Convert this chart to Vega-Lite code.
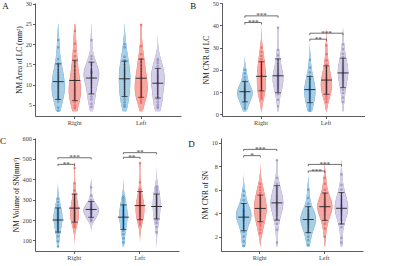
{
"$schema":"https://vega.github.io/schema/vega-lite/v6.json",
"padding":{"left":0,"top":0,"right":0,"bottom":0},
"config":{
 "font":"Liberation Serif",
 "view":{"stroke":null},
 "axis":{"domainColor":"#333","tickColor":"#333","domainWidth":0.8,"tickWidth":0.8,"tickSize":2.5,"labelFont":"Liberation Serif","labelFontSize":6.3,"labelColor":"#444","titleFont":"Liberation Serif","titleFontSize":7.4,"titleFontWeight":"normal","titleColor":"#222","grid":false,"labelPadding":1,"titlePadding":1.5},
 "legend":{"titleFont":"Liberation Serif","titleFontSize":6,"titleFontWeight":"normal","titleColor":"#333","labelFont":"Liberation Serif","labelFontSize":5.8,"labelColor":"#333","symbolType":"square","symbolSize":32,"symbolStrokeWidth":0.8,"rowPadding":0.8,"titlePadding":2,"labelOffset":2},
 "title":{"font":"Liberation Serif","fontSize":9,"fontWeight":"normal","color":"#111","orient":"left","anchor":"end","angle":0,"baseline":"top","align":"right","offset":0.5,"dy":1.5}
},
"datasets":{
"A":[
{"s":"Right","g":"PD","v":3.5},{"s":"Right","g":"PD","v":4.3},{"s":"Right","g":"PD","v":5.8},{"s":"Right","g":"PD","v":6.5},{"s":"Right","g":"PD","v":6.9},{"s":"Right","g":"PD","v":7.3},{"s":"Right","g":"PD","v":7.8},{"s":"Right","g":"PD","v":8.2},{"s":"Right","g":"PD","v":8.7},{"s":"Right","g":"PD","v":9.1},{"s":"Right","g":"PD","v":9.5},{"s":"Right","g":"PD","v":9.9},{"s":"Right","g":"PD","v":10.3},{"s":"Right","g":"PD","v":10.8},{"s":"Right","g":"PD","v":11.3},{"s":"Right","g":"PD","v":11.8},{"s":"Right","g":"PD","v":12.4},{"s":"Right","g":"PD","v":13.0},{"s":"Right","g":"PD","v":13.7},{"s":"Right","g":"PD","v":14.5},{"s":"Right","g":"PD","v":15.2},{"s":"Right","g":"PD","v":16.3},{"s":"Right","g":"PD","v":19.2},{"s":"Right","g":"PD","v":21.0},
{"s":"Right","g":"ET","v":4.2},{"s":"Right","g":"ET","v":4.8},{"s":"Right","g":"ET","v":5.6},{"s":"Right","g":"ET","v":6.2},{"s":"Right","g":"ET","v":6.7},{"s":"Right","g":"ET","v":7.1},{"s":"Right","g":"ET","v":7.5},{"s":"Right","g":"ET","v":7.9},{"s":"Right","g":"ET","v":8.3},{"s":"Right","g":"ET","v":8.7},{"s":"Right","g":"ET","v":9.1},{"s":"Right","g":"ET","v":9.6},{"s":"Right","g":"ET","v":10.1},{"s":"Right","g":"ET","v":10.6},{"s":"Right","g":"ET","v":11.2},{"s":"Right","g":"ET","v":11.9},{"s":"Right","g":"ET","v":12.6},{"s":"Right","g":"ET","v":13.5},{"s":"Right","g":"ET","v":14.5},{"s":"Right","g":"ET","v":15.6},{"s":"Right","g":"ET","v":17.0},{"s":"Right","g":"ET","v":18.3},{"s":"Right","g":"ET","v":20.1},{"s":"Right","g":"ET","v":23.3},
{"s":"Right","g":"HC","v":4.5},{"s":"Right","g":"HC","v":5.2},{"s":"Right","g":"HC","v":6.3},{"s":"Right","g":"HC","v":7.0},{"s":"Right","g":"HC","v":7.8},{"s":"Right","g":"HC","v":8.5},{"s":"Right","g":"HC","v":9.2},{"s":"Right","g":"HC","v":9.8},{"s":"Right","g":"HC","v":10.4},{"s":"Right","g":"HC","v":10.9},{"s":"Right","g":"HC","v":11.4},{"s":"Right","g":"HC","v":11.9},{"s":"Right","g":"HC","v":12.3},{"s":"Right","g":"HC","v":12.7},{"s":"Right","g":"HC","v":13.0},{"s":"Right","g":"HC","v":12.9},{"s":"Right","g":"HC","v":13.1},{"s":"Right","g":"HC","v":13.4},{"s":"Right","g":"HC","v":13.8},{"s":"Right","g":"HC","v":14.8},{"s":"Right","g":"HC","v":15.4},{"s":"Right","g":"HC","v":16.3},{"s":"Right","g":"HC","v":17.0},{"s":"Right","g":"HC","v":21.0},
{"s":"Left","g":"PD","v":4.5},{"s":"Left","g":"PD","v":5.0},{"s":"Left","g":"PD","v":5.6},{"s":"Left","g":"PD","v":6.3},{"s":"Left","g":"PD","v":7.0},{"s":"Left","g":"PD","v":7.6},{"s":"Left","g":"PD","v":8.2},{"s":"Left","g":"PD","v":8.8},{"s":"Left","g":"PD","v":9.4},{"s":"Left","g":"PD","v":10.0},{"s":"Left","g":"PD","v":10.6},{"s":"Left","g":"PD","v":11.1},{"s":"Left","g":"PD","v":11.6},{"s":"Left","g":"PD","v":12.1},{"s":"Left","g":"PD","v":12.6},{"s":"Left","g":"PD","v":13.1},{"s":"Left","g":"PD","v":13.6},{"s":"Left","g":"PD","v":14.2},{"s":"Left","g":"PD","v":14.9},{"s":"Left","g":"PD","v":15.7},{"s":"Left","g":"PD","v":16.0},{"s":"Left","g":"PD","v":16.9},{"s":"Left","g":"PD","v":19.2},{"s":"Left","g":"PD","v":20.0},
{"s":"Left","g":"ET","v":5.5},{"s":"Left","g":"ET","v":6.0},{"s":"Left","g":"ET","v":6.5},{"s":"Left","g":"ET","v":7.0},{"s":"Left","g":"ET","v":7.4},{"s":"Left","g":"ET","v":7.8},{"s":"Left","g":"ET","v":8.2},{"s":"Left","g":"ET","v":8.6},{"s":"Left","g":"ET","v":9.0},{"s":"Left","g":"ET","v":9.4},{"s":"Left","g":"ET","v":9.8},{"s":"Left","g":"ET","v":10.3},{"s":"Left","g":"ET","v":10.8},{"s":"Left","g":"ET","v":11.3},{"s":"Left","g":"ET","v":11.9},{"s":"Left","g":"ET","v":12.5},{"s":"Left","g":"ET","v":13.2},{"s":"Left","g":"ET","v":13.9},{"s":"Left","g":"ET","v":14.7},{"s":"Left","g":"ET","v":15.6},{"s":"Left","g":"ET","v":16.4},{"s":"Left","g":"ET","v":17.5},{"s":"Left","g":"ET","v":19.5},{"s":"Left","g":"ET","v":24.8},
{"s":"Left","g":"HC","v":4.2},{"s":"Left","g":"HC","v":4.5},{"s":"Left","g":"HC","v":5.0},{"s":"Left","g":"HC","v":5.6},{"s":"Left","g":"HC","v":6.3},{"s":"Left","g":"HC","v":7.0},{"s":"Left","g":"HC","v":7.7},{"s":"Left","g":"HC","v":8.3},{"s":"Left","g":"HC","v":8.9},{"s":"Left","g":"HC","v":9.5},{"s":"Left","g":"HC","v":10.0},{"s":"Left","g":"HC","v":10.5},{"s":"Left","g":"HC","v":10.9},{"s":"Left","g":"HC","v":11.3},{"s":"Left","g":"HC","v":11.7},{"s":"Left","g":"HC","v":12.0},{"s":"Left","g":"HC","v":12.4},{"s":"Left","g":"HC","v":12.8},{"s":"Left","g":"HC","v":13.3},{"s":"Left","g":"HC","v":13.9},{"s":"Left","g":"HC","v":14.6},{"s":"Left","g":"HC","v":15.3},{"s":"Left","g":"HC","v":15.9},{"s":"Left","g":"HC","v":16.3}
],
"B":[
{"s":"Right","g":"PD","v":2.5},{"s":"Right","g":"PD","v":3.2},{"s":"Right","g":"PD","v":4.3},{"s":"Right","g":"PD","v":5.2},{"s":"Right","g":"PD","v":6.0},{"s":"Right","g":"PD","v":6.8},{"s":"Right","g":"PD","v":7.4},{"s":"Right","g":"PD","v":7.9},{"s":"Right","g":"PD","v":8.4},{"s":"Right","g":"PD","v":8.8},{"s":"Right","g":"PD","v":9.2},{"s":"Right","g":"PD","v":9.6},{"s":"Right","g":"PD","v":10.0},{"s":"Right","g":"PD","v":10.4},{"s":"Right","g":"PD","v":10.8},{"s":"Right","g":"PD","v":11.3},{"s":"Right","g":"PD","v":11.8},{"s":"Right","g":"PD","v":12.4},{"s":"Right","g":"PD","v":13.1},{"s":"Right","g":"PD","v":14.0},{"s":"Right","g":"PD","v":15.2},{"s":"Right","g":"PD","v":16.6},{"s":"Right","g":"PD","v":18.4},{"s":"Right","g":"PD","v":20.0},
{"s":"Right","g":"ET","v":7.0},{"s":"Right","g":"ET","v":7.8},{"s":"Right","g":"ET","v":8.6},{"s":"Right","g":"ET","v":9.5},{"s":"Right","g":"ET","v":10.4},{"s":"Right","g":"ET","v":11.3},{"s":"Right","g":"ET","v":12.2},{"s":"Right","g":"ET","v":13.0},{"s":"Right","g":"ET","v":13.9},{"s":"Right","g":"ET","v":14.7},{"s":"Right","g":"ET","v":15.5},{"s":"Right","g":"ET","v":16.3},{"s":"Right","g":"ET","v":17.1},{"s":"Right","g":"ET","v":17.9},{"s":"Right","g":"ET","v":18.7},{"s":"Right","g":"ET","v":19.6},{"s":"Right","g":"ET","v":20.5},{"s":"Right","g":"ET","v":21.4},{"s":"Right","g":"ET","v":22.4},{"s":"Right","g":"ET","v":23.5},{"s":"Right","g":"ET","v":24.7},{"s":"Right","g":"ET","v":26.2},{"s":"Right","g":"ET","v":28.0},{"s":"Right","g":"ET","v":30.0},
{"s":"Right","g":"HC","v":3.5},{"s":"Right","g":"HC","v":6.5},{"s":"Right","g":"HC","v":9.0},{"s":"Right","g":"HC","v":10.5},{"s":"Right","g":"HC","v":11.5},{"s":"Right","g":"HC","v":12.3},{"s":"Right","g":"HC","v":13.0},{"s":"Right","g":"HC","v":13.7},{"s":"Right","g":"HC","v":14.4},{"s":"Right","g":"HC","v":15.0},{"s":"Right","g":"HC","v":15.6},{"s":"Right","g":"HC","v":16.2},{"s":"Right","g":"HC","v":16.8},{"s":"Right","g":"HC","v":17.4},{"s":"Right","g":"HC","v":18.0},{"s":"Right","g":"HC","v":18.7},{"s":"Right","g":"HC","v":19.5},{"s":"Right","g":"HC","v":20.4},{"s":"Right","g":"HC","v":21.5},{"s":"Right","g":"HC","v":22.8},{"s":"Right","g":"HC","v":24.5},{"s":"Right","g":"HC","v":26.5},{"s":"Right","g":"HC","v":29.0},{"s":"Right","g":"HC","v":39.0},
{"s":"Left","g":"PD","v":1.5},{"s":"Left","g":"PD","v":2.5},{"s":"Left","g":"PD","v":3.5},{"s":"Left","g":"PD","v":4.5},{"s":"Left","g":"PD","v":5.5},{"s":"Left","g":"PD","v":6.5},{"s":"Left","g":"PD","v":7.3},{"s":"Left","g":"PD","v":8.0},{"s":"Left","g":"PD","v":8.7},{"s":"Left","g":"PD","v":9.3},{"s":"Left","g":"PD","v":9.9},{"s":"Left","g":"PD","v":10.4},{"s":"Left","g":"PD","v":10.9},{"s":"Left","g":"PD","v":11.5},{"s":"Left","g":"PD","v":12.1},{"s":"Left","g":"PD","v":12.8},{"s":"Left","g":"PD","v":13.6},{"s":"Left","g":"PD","v":14.5},{"s":"Left","g":"PD","v":15.6},{"s":"Left","g":"PD","v":15.8},{"s":"Left","g":"PD","v":17.2},{"s":"Left","g":"PD","v":18.8},{"s":"Left","g":"PD","v":21.0},{"s":"Left","g":"PD","v":24.5},
{"s":"Left","g":"ET","v":5.5},{"s":"Left","g":"ET","v":6.8},{"s":"Left","g":"ET","v":8.0},{"s":"Left","g":"ET","v":9.0},{"s":"Left","g":"ET","v":9.8},{"s":"Left","g":"ET","v":10.5},{"s":"Left","g":"ET","v":11.2},{"s":"Left","g":"ET","v":11.8},{"s":"Left","g":"ET","v":12.4},{"s":"Left","g":"ET","v":13.0},{"s":"Left","g":"ET","v":13.6},{"s":"Left","g":"ET","v":14.2},{"s":"Left","g":"ET","v":14.8},{"s":"Left","g":"ET","v":15.4},{"s":"Left","g":"ET","v":16.0},{"s":"Left","g":"ET","v":16.7},{"s":"Left","g":"ET","v":17.5},{"s":"Left","g":"ET","v":18.4},{"s":"Left","g":"ET","v":19.5},{"s":"Left","g":"ET","v":20.8},{"s":"Left","g":"ET","v":22.3},{"s":"Left","g":"ET","v":24.2},{"s":"Left","g":"ET","v":27.0},{"s":"Left","g":"ET","v":31.0},
{"s":"Left","g":"HC","v":5.5},{"s":"Left","g":"HC","v":7.5},{"s":"Left","g":"HC","v":9.5},{"s":"Left","g":"HC","v":11.0},{"s":"Left","g":"HC","v":12.5},{"s":"Left","g":"HC","v":13.8},{"s":"Left","g":"HC","v":14.9},{"s":"Left","g":"HC","v":15.8},{"s":"Left","g":"HC","v":16.6},{"s":"Left","g":"HC","v":17.3},{"s":"Left","g":"HC","v":17.9},{"s":"Left","g":"HC","v":18.5},{"s":"Left","g":"HC","v":19.1},{"s":"Left","g":"HC","v":19.7},{"s":"Left","g":"HC","v":20.3},{"s":"Left","g":"HC","v":20.9},{"s":"Left","g":"HC","v":21.6},{"s":"Left","g":"HC","v":22.4},{"s":"Left","g":"HC","v":23.3},{"s":"Left","g":"HC","v":24.4},{"s":"Left","g":"HC","v":25.7},{"s":"Left","g":"HC","v":27.2},{"s":"Left","g":"HC","v":29.3},{"s":"Left","g":"HC","v":31.5}
],
"C":[
{"s":"Right","g":"PD","v":70},{"s":"Right","g":"PD","v":95},{"s":"Right","g":"PD","v":120},{"s":"Right","g":"PD","v":138},{"s":"Right","g":"PD","v":150},{"s":"Right","g":"PD","v":160},{"s":"Right","g":"PD","v":168},{"s":"Right","g":"PD","v":176},{"s":"Right","g":"PD","v":183},{"s":"Right","g":"PD","v":190},{"s":"Right","g":"PD","v":196},{"s":"Right","g":"PD","v":202},{"s":"Right","g":"PD","v":208},{"s":"Right","g":"PD","v":214},{"s":"Right","g":"PD","v":220},{"s":"Right","g":"PD","v":226},{"s":"Right","g":"PD","v":232},{"s":"Right","g":"PD","v":238},{"s":"Right","g":"PD","v":245},{"s":"Right","g":"PD","v":252},{"s":"Right","g":"PD","v":260},{"s":"Right","g":"PD","v":272},{"s":"Right","g":"PD","v":288},{"s":"Right","g":"PD","v":305},
{"s":"Right","g":"ET","v":165},{"s":"Right","g":"ET","v":175},{"s":"Right","g":"ET","v":185},{"s":"Right","g":"ET","v":193},{"s":"Right","g":"ET","v":200},{"s":"Right","g":"ET","v":207},{"s":"Right","g":"ET","v":213},{"s":"Right","g":"ET","v":219},{"s":"Right","g":"ET","v":225},{"s":"Right","g":"ET","v":231},{"s":"Right","g":"ET","v":237},{"s":"Right","g":"ET","v":243},{"s":"Right","g":"ET","v":249},{"s":"Right","g":"ET","v":255},{"s":"Right","g":"ET","v":262},{"s":"Right","g":"ET","v":270},{"s":"Right","g":"ET","v":278},{"s":"Right","g":"ET","v":287},{"s":"Right","g":"ET","v":297},{"s":"Right","g":"ET","v":310},{"s":"Right","g":"ET","v":325},{"s":"Right","g":"ET","v":345},{"s":"Right","g":"ET","v":380},{"s":"Right","g":"ET","v":455},
{"s":"Right","g":"HC","v":195},{"s":"Right","g":"HC","v":200},{"s":"Right","g":"HC","v":206},{"s":"Right","g":"HC","v":212},{"s":"Right","g":"HC","v":218},{"s":"Right","g":"HC","v":224},{"s":"Right","g":"HC","v":229},{"s":"Right","g":"HC","v":233},{"s":"Right","g":"HC","v":237},{"s":"Right","g":"HC","v":241},{"s":"Right","g":"HC","v":244},{"s":"Right","g":"HC","v":247},{"s":"Right","g":"HC","v":250},{"s":"Right","g":"HC","v":253},{"s":"Right","g":"HC","v":256},{"s":"Right","g":"HC","v":260},{"s":"Right","g":"HC","v":264},{"s":"Right","g":"HC","v":268},{"s":"Right","g":"HC","v":273},{"s":"Right","g":"HC","v":279},{"s":"Right","g":"HC","v":287},{"s":"Right","g":"HC","v":298},{"s":"Right","g":"HC","v":320},{"s":"Right","g":"HC","v":360},
{"s":"Left","g":"PD","v":90},{"s":"Left","g":"PD","v":110},{"s":"Left","g":"PD","v":130},{"s":"Left","g":"PD","v":148},{"s":"Left","g":"PD","v":160},{"s":"Left","g":"PD","v":170},{"s":"Left","g":"PD","v":179},{"s":"Left","g":"PD","v":187},{"s":"Left","g":"PD","v":195},{"s":"Left","g":"PD","v":202},{"s":"Left","g":"PD","v":209},{"s":"Left","g":"PD","v":215},{"s":"Left","g":"PD","v":221},{"s":"Left","g":"PD","v":227},{"s":"Left","g":"PD","v":233},{"s":"Left","g":"PD","v":240},{"s":"Left","g":"PD","v":247},{"s":"Left","g":"PD","v":254},{"s":"Left","g":"PD","v":262},{"s":"Left","g":"PD","v":270},{"s":"Left","g":"PD","v":280},{"s":"Left","g":"PD","v":292},{"s":"Left","g":"PD","v":305},{"s":"Left","g":"PD","v":315},
{"s":"Left","g":"ET","v":175},{"s":"Left","g":"ET","v":185},{"s":"Left","g":"ET","v":195},{"s":"Left","g":"ET","v":204},{"s":"Left","g":"ET","v":212},{"s":"Left","g":"ET","v":220},{"s":"Left","g":"ET","v":227},{"s":"Left","g":"ET","v":234},{"s":"Left","g":"ET","v":240},{"s":"Left","g":"ET","v":246},{"s":"Left","g":"ET","v":252},{"s":"Left","g":"ET","v":258},{"s":"Left","g":"ET","v":264},{"s":"Left","g":"ET","v":270},{"s":"Left","g":"ET","v":276},{"s":"Left","g":"ET","v":283},{"s":"Left","g":"ET","v":290},{"s":"Left","g":"ET","v":298},{"s":"Left","g":"ET","v":307},{"s":"Left","g":"ET","v":318},{"s":"Left","g":"ET","v":332},{"s":"Left","g":"ET","v":350},{"s":"Left","g":"ET","v":385},{"s":"Left","g":"ET","v":480},
{"s":"Left","g":"HC","v":140},{"s":"Left","g":"HC","v":165},{"s":"Left","g":"HC","v":185},{"s":"Left","g":"HC","v":198},{"s":"Left","g":"HC","v":210},{"s":"Left","g":"HC","v":220},{"s":"Left","g":"HC","v":229},{"s":"Left","g":"HC","v":237},{"s":"Left","g":"HC","v":245},{"s":"Left","g":"HC","v":252},{"s":"Left","g":"HC","v":259},{"s":"Left","g":"HC","v":266},{"s":"Left","g":"HC","v":273},{"s":"Left","g":"HC","v":280},{"s":"Left","g":"HC","v":287},{"s":"Left","g":"HC","v":294},{"s":"Left","g":"HC","v":301},{"s":"Left","g":"HC","v":309},{"s":"Left","g":"HC","v":317},{"s":"Left","g":"HC","v":326},{"s":"Left","g":"HC","v":336},{"s":"Left","g":"HC","v":347},{"s":"Left","g":"HC","v":357},{"s":"Left","g":"HC","v":365}
],
"D":[
{"s":"Right","g":"PD","v":1.2},{"s":"Right","g":"PD","v":1.6},{"s":"Right","g":"PD","v":2.0},{"s":"Right","g":"PD","v":2.4},{"s":"Right","g":"PD","v":2.7},{"s":"Right","g":"PD","v":2.9},{"s":"Right","g":"PD","v":3.1},{"s":"Right","g":"PD","v":3.3},{"s":"Right","g":"PD","v":3.4},{"s":"Right","g":"PD","v":3.5},{"s":"Right","g":"PD","v":3.6},{"s":"Right","g":"PD","v":3.7},{"s":"Right","g":"PD","v":3.8},{"s":"Right","g":"PD","v":3.9},{"s":"Right","g":"PD","v":4.0},{"s":"Right","g":"PD","v":4.1},{"s":"Right","g":"PD","v":4.2},{"s":"Right","g":"PD","v":4.25},{"s":"Right","g":"PD","v":4.4},{"s":"Right","g":"PD","v":4.6},{"s":"Right","g":"PD","v":4.8},{"s":"Right","g":"PD","v":5.1},{"s":"Right","g":"PD","v":5.5},{"s":"Right","g":"PD","v":5.9},
{"s":"Right","g":"ET","v":2.3},{"s":"Right","g":"ET","v":2.6},{"s":"Right","g":"ET","v":2.9},{"s":"Right","g":"ET","v":3.1},{"s":"Right","g":"ET","v":3.3},{"s":"Right","g":"ET","v":3.5},{"s":"Right","g":"ET","v":3.7},{"s":"Right","g":"ET","v":3.85},{"s":"Right","g":"ET","v":4.0},{"s":"Right","g":"ET","v":4.1},{"s":"Right","g":"ET","v":4.25},{"s":"Right","g":"ET","v":4.35},{"s":"Right","g":"ET","v":4.45},{"s":"Right","g":"ET","v":4.55},{"s":"Right","g":"ET","v":4.7},{"s":"Right","g":"ET","v":4.85},{"s":"Right","g":"ET","v":5.0},{"s":"Right","g":"ET","v":5.15},{"s":"Right","g":"ET","v":5.3},{"s":"Right","g":"ET","v":5.5},{"s":"Right","g":"ET","v":5.7},{"s":"Right","g":"ET","v":5.95},{"s":"Right","g":"ET","v":6.2},{"s":"Right","g":"ET","v":6.5},
{"s":"Right","g":"HC","v":1.5},{"s":"Right","g":"HC","v":2.6},{"s":"Right","g":"HC","v":3.1},{"s":"Right","g":"HC","v":3.5},{"s":"Right","g":"HC","v":3.8},{"s":"Right","g":"HC","v":4.0},{"s":"Right","g":"HC","v":4.2},{"s":"Right","g":"HC","v":4.35},{"s":"Right","g":"HC","v":4.5},{"s":"Right","g":"HC","v":4.6},{"s":"Right","g":"HC","v":4.7},{"s":"Right","g":"HC","v":4.8},{"s":"Right","g":"HC","v":4.9},{"s":"Right","g":"HC","v":5.0},{"s":"Right","g":"HC","v":5.15},{"s":"Right","g":"HC","v":5.3},{"s":"Right","g":"HC","v":5.45},{"s":"Right","g":"HC","v":5.6},{"s":"Right","g":"HC","v":5.8},{"s":"Right","g":"HC","v":6.0},{"s":"Right","g":"HC","v":6.2},{"s":"Right","g":"HC","v":6.5},{"s":"Right","g":"HC","v":7.0},{"s":"Right","g":"HC","v":8.5},
{"s":"Left","g":"PD","v":1.3},{"s":"Left","g":"PD","v":1.7},{"s":"Left","g":"PD","v":2.0},{"s":"Left","g":"PD","v":2.3},{"s":"Left","g":"PD","v":2.5},{"s":"Left","g":"PD","v":2.7},{"s":"Left","g":"PD","v":2.85},{"s":"Left","g":"PD","v":3.0},{"s":"Left","g":"PD","v":3.1},{"s":"Left","g":"PD","v":3.2},{"s":"Left","g":"PD","v":3.3},{"s":"Left","g":"PD","v":3.4},{"s":"Left","g":"PD","v":3.5},{"s":"Left","g":"PD","v":3.6},{"s":"Left","g":"PD","v":3.7},{"s":"Left","g":"PD","v":3.8},{"s":"Left","g":"PD","v":3.9},{"s":"Left","g":"PD","v":4.0},{"s":"Left","g":"PD","v":4.15},{"s":"Left","g":"PD","v":4.3},{"s":"Left","g":"PD","v":4.5},{"s":"Left","g":"PD","v":4.8},{"s":"Left","g":"PD","v":5.3},{"s":"Left","g":"PD","v":6.0},
{"s":"Left","g":"ET","v":2.0},{"s":"Left","g":"ET","v":2.7},{"s":"Left","g":"ET","v":3.1},{"s":"Left","g":"ET","v":3.4},{"s":"Left","g":"ET","v":3.6},{"s":"Left","g":"ET","v":3.8},{"s":"Left","g":"ET","v":3.95},{"s":"Left","g":"ET","v":4.1},{"s":"Left","g":"ET","v":4.2},{"s":"Left","g":"ET","v":4.3},{"s":"Left","g":"ET","v":4.4},{"s":"Left","g":"ET","v":4.5},{"s":"Left","g":"ET","v":4.6},{"s":"Left","g":"ET","v":4.7},{"s":"Left","g":"ET","v":4.8},{"s":"Left","g":"ET","v":4.9},{"s":"Left","g":"ET","v":5.0},{"s":"Left","g":"ET","v":5.15},{"s":"Left","g":"ET","v":5.3},{"s":"Left","g":"ET","v":5.5},{"s":"Left","g":"ET","v":5.7},{"s":"Left","g":"ET","v":6.0},{"s":"Left","g":"ET","v":6.5},{"s":"Left","g":"ET","v":7.0},
{"s":"Left","g":"HC","v":1.5},{"s":"Left","g":"HC","v":1.9},{"s":"Left","g":"HC","v":2.8},{"s":"Left","g":"HC","v":3.1},{"s":"Left","g":"HC","v":3.4},{"s":"Left","g":"HC","v":3.6},{"s":"Left","g":"HC","v":3.8},{"s":"Left","g":"HC","v":3.95},{"s":"Left","g":"HC","v":4.1},{"s":"Left","g":"HC","v":4.2},{"s":"Left","g":"HC","v":4.3},{"s":"Left","g":"HC","v":4.4},{"s":"Left","g":"HC","v":4.5},{"s":"Left","g":"HC","v":4.6},{"s":"Left","g":"HC","v":4.7},{"s":"Left","g":"HC","v":4.85},{"s":"Left","g":"HC","v":5.0},{"s":"Left","g":"HC","v":5.15},{"s":"Left","g":"HC","v":5.3},{"s":"Left","g":"HC","v":5.5},{"s":"Left","g":"HC","v":5.7},{"s":"Left","g":"HC","v":6.0},{"s":"Left","g":"HC","v":6.4},{"s":"Left","g":"HC","v":7.3}
],
"bB":[
{"b":1,"s":"Right","g":"PD","v":43.4,"o":0},{"b":1,"s":"Right","g":"PD","v":44.3,"o":1},{"b":1,"s":"Right","g":"HC","v":44.3,"o":2},{"b":1,"s":"Right","g":"HC","v":43.4,"o":3},
{"b":2,"s":"Right","g":"PD","v":40.4,"o":0},{"b":2,"s":"Right","g":"PD","v":41.3,"o":1},{"b":2,"s":"Right","g":"ET","v":41.3,"o":2},{"b":2,"s":"Right","g":"ET","v":40.4,"o":3},
{"b":3,"s":"Left","g":"PD","v":35.6,"o":0},{"b":3,"s":"Left","g":"PD","v":36.5,"o":1},{"b":3,"s":"Left","g":"HC","v":36.5,"o":2},{"b":3,"s":"Left","g":"HC","v":35.6,"o":3},
{"b":4,"s":"Left","g":"PD","v":32.9,"o":0},{"b":4,"s":"Left","g":"PD","v":33.8,"o":1},{"b":4,"s":"Left","g":"ET","v":33.8,"o":2},{"b":4,"s":"Left","g":"ET","v":32.9,"o":3}
],
"lB":[
{"s":"Right","g":"ET","v":44.3,"t":"***"},{"s":"Right","g":"PD-ET","v":41.3,"t":"***"},{"s":"Left","g":"ET","v":36.5,"t":"***"},{"s":"Left","g":"PD-ET","v":33.8,"t":"**"}
],
"bC":[
{"b":1,"s":"Right","g":"PD","v":498,"o":0},{"b":1,"s":"Right","g":"PD","v":506,"o":1},{"b":1,"s":"Right","g":"HC","v":506,"o":2},{"b":1,"s":"Right","g":"HC","v":498,"o":3},
{"b":2,"s":"Right","g":"PD","v":465.5,"o":0},{"b":2,"s":"Right","g":"PD","v":473.5,"o":1},{"b":2,"s":"Right","g":"ET","v":473.5,"o":2},{"b":2,"s":"Right","g":"ET","v":465.5,"o":3},
{"b":3,"s":"Left","g":"PD","v":523,"o":0},{"b":3,"s":"Left","g":"PD","v":531,"o":1},{"b":3,"s":"Left","g":"HC","v":531,"o":2},{"b":3,"s":"Left","g":"HC","v":523,"o":3},
{"b":4,"s":"Left","g":"PD","v":500,"o":0},{"b":4,"s":"Left","g":"PD","v":508,"o":1},{"b":4,"s":"Left","g":"ET","v":508,"o":2},{"b":4,"s":"Left","g":"ET","v":500,"o":3}
],
"lC":[
{"s":"Right","g":"ET","v":506,"t":"***"},{"s":"Right","g":"PD-ET","v":473.5,"t":"**"},{"s":"Left","g":"ET","v":531,"t":"**"},{"s":"Left","g":"PD-ET","v":508,"t":"**"}
],
"bD":[
{"b":1,"s":"Right","g":"PD","v":9.28,"o":0},{"b":1,"s":"Right","g":"PD","v":9.43,"o":1},{"b":1,"s":"Right","g":"HC","v":9.43,"o":2},{"b":1,"s":"Right","g":"HC","v":9.28,"o":3},
{"b":2,"s":"Right","g":"PD","v":8.75,"o":0},{"b":2,"s":"Right","g":"PD","v":8.9,"o":1},{"b":2,"s":"Right","g":"ET","v":8.9,"o":2},{"b":2,"s":"Right","g":"ET","v":8.75,"o":3},
{"b":3,"s":"Left","g":"PD","v":8.0,"o":0},{"b":3,"s":"Left","g":"PD","v":8.15,"o":1},{"b":3,"s":"Left","g":"HC","v":8.15,"o":2},{"b":3,"s":"Left","g":"HC","v":8.0,"o":3},
{"b":4,"s":"Left","g":"PD","v":7.44,"o":0},{"b":4,"s":"Left","g":"PD","v":7.59,"o":1},{"b":4,"s":"Left","g":"ET","v":7.59,"o":2},{"b":4,"s":"Left","g":"ET","v":7.44,"o":3}
],
"lD":[
{"s":"Right","g":"ET","v":9.43,"t":"***"},{"s":"Right","g":"PD-ET","v":8.9,"t":"*"},{"s":"Left","g":"ET","v":8.15,"t":"***"},{"s":"Left","g":"PD-ET","v":7.59,"t":"***"}
]
},
"spacing":9,
"resolve":{"scale":{"size":"independent","fill":"independent","stroke":"independent","color":"independent"},"legend":{"fill":"independent","stroke":"independent"}},
"vconcat":[
{"hconcat":[
{"width":146,"height":113,"title":{"text":"A"},"data":{"name":"A"},
 "resolve":{"scale":{"size":"independent"}},
 "encoding":{
  "x":{"field":"s","type":"nominal","sort":["Right","Left"],"scale":{"paddingInner":0.375,"paddingOuter":0.2875},"axis":{"title":null,"labelAngle":0}},
  "xOffset":{"field":"g","type":"nominal","scale":{"domain":["PD","PD-ET","ET","ET-HC","HC"],"paddingInner":0,"paddingOuter":0}},
  "y":{"field":"v","type":"quantitative","scale":{"domain":[2.2,30.2],"nice":false,"zero":false},"axis":{"title":"NM Area of LC (mm²)","values":[5,10,15,20,25,30]}}},
 "layer":[
  {"transform":[{"density":"v","groupby":["s","g"],"steps":150,"as":["v","dens"]}],
   "mark":{"type":"tick","thickness":1.1,"opacity":1},
   "encoding":{"size":{"field":"dens","type":"quantitative","scale":{"range":[0,15.6],"zero":true},"legend":null},
    "color":{"field":"g","type":"nominal","scale":{"domain":["PD","ET","HC"],"range":["#86b9dc","#f08d87","#b6aed6"]},"legend":null}}},
  {"transform":[{"density":"v","groupby":["s","g"],"steps":150,"as":["v","dens"]}],
   "mark":{"type":"tick","thickness":1.1,"opacity":1},
   "encoding":{"size":{"field":"dens","type":"quantitative","scale":{"range":[0,14],"zero":true},"legend":null},
    "fill":{"field":"g","type":"nominal","scale":{"domain":["PD","ET","HC"],"range":["#a9cfe7","#f6aaa5","#d5cfe7"]},"legend":{"title":"Group","orient":"none","legendX":150,"legendY":38}}}},
  {"mark":{"type":"point","shape":"square","size":2,"filled":false,"strokeWidth":0.9,"opacity":0.75},
   "encoding":{"stroke":{"field":"g","type":"nominal","scale":{"domain":["PD","ET","HC"],"range":["#3d8cc4","#e9544d","#8a7fb5"]},"legend":{"title":"Group","orient":"none","legendX":150,"legendY":38}}}},
  {"mark":{"type":"errorbar","extent":"stdev","ticks":{"size":6,"color":"#222","strokeWidth":0.9},"rule":{"color":"#222","strokeWidth":0.9}}},
  {"mark":{"type":"tick","color":"#222","size":11,"thickness":0.9,"opacity":1},"encoding":{"y":{"aggregate":"mean","field":"v","type":"quantitative"}}}
 ]},
{"width":143,"height":113,"title":{"text":"B"},"data":{"name":"B"},
 "resolve":{"scale":{"size":"independent"}},
 "encoding":{
  "x":{"field":"s","type":"nominal","sort":["Right","Left"],"scale":{"paddingInner":0.375,"paddingOuter":0.2875},"axis":{"title":null,"labelAngle":0}},
  "xOffset":{"field":"g","type":"nominal","scale":{"domain":["PD","PD-ET","ET","ET-HC","HC"],"paddingInner":0,"paddingOuter":0}},
  "y":{"field":"v","type":"quantitative","scale":{"domain":[-0.8,50.1],"nice":false,"zero":false},"axis":{"title":"NM CNR of LC","values":[0,10,20,30,40,50]}}},
 "layer":[
  {"transform":[{"density":"v","groupby":["s","g"],"steps":150,"as":["v","dens"]}],
   "mark":{"type":"tick","thickness":1.1,"opacity":1},
   "encoding":{"size":{"field":"dens","type":"quantitative","scale":{"range":[0,15.6],"zero":true},"legend":null},
    "color":{"field":"g","type":"nominal","scale":{"domain":["PD","ET","HC"],"range":["#86b9dc","#f08d87","#b6aed6"]},"legend":null}}},
  {"transform":[{"density":"v","groupby":["s","g"],"steps":150,"as":["v","dens"]}],
   "mark":{"type":"tick","thickness":1.1,"opacity":1},
   "encoding":{"size":{"field":"dens","type":"quantitative","scale":{"range":[0,14],"zero":true},"legend":null},
    "fill":{"field":"g","type":"nominal","scale":{"domain":["PD","ET","HC"],"range":["#a9cfe7","#f6aaa5","#d5cfe7"]},"legend":{"title":"Group","orient":"none","legendX":150,"legendY":38}}}},
  {"mark":{"type":"point","shape":"square","size":2,"filled":false,"strokeWidth":0.9,"opacity":0.75},
   "encoding":{"stroke":{"field":"g","type":"nominal","scale":{"domain":["PD","ET","HC"],"range":["#3d8cc4","#e9544d","#8a7fb5"]},"legend":{"title":"Group","orient":"none","legendX":150,"legendY":38}}}},
  {"mark":{"type":"errorbar","extent":"stdev","ticks":{"size":6,"color":"#222","strokeWidth":0.9},"rule":{"color":"#222","strokeWidth":0.9}}},
  {"mark":{"type":"tick","color":"#222","size":11,"thickness":0.9,"opacity":1},"encoding":{"y":{"aggregate":"mean","field":"v","type":"quantitative"}}},
  {"data":{"name":"bB"},"mark":{"type":"line","color":"#333","strokeWidth":0.7},"encoding":{"detail":{"field":"b","type":"nominal"},"order":{"field":"o","type":"quantitative"}}},
  {"data":{"name":"lB"},"mark":{"type":"text","fontSize":7,"baseline":"alphabetic","dy":1.5,"color":"#333"},"encoding":{"text":{"field":"t","type":"nominal"}}}
 ]}
],"spacing":9,
"resolve":{"scale":{"size":"independent","fill":"independent","stroke":"independent","color":"independent"},"legend":{"fill":"independent","stroke":"independent"}}},
{"hconcat":[
{"width":144,"height":113,"title":{"text":"C"},"data":{"name":"C"},
 "resolve":{"scale":{"size":"independent"}},
 "encoding":{
  "x":{"field":"s","type":"nominal","sort":["Right","Left"],"scale":{"paddingInner":0.375,"paddingOuter":0.2875},"axis":{"title":null,"labelAngle":0}},
  "xOffset":{"field":"g","type":"nominal","scale":{"domain":["PD","PD-ET","ET","ET-HC","HC"],"paddingInner":0,"paddingOuter":0}},
  "y":{"field":"v","type":"quantitative","scale":{"domain":[48,603],"nice":false,"zero":false},"axis":{"title":"NM Volume of SN(mm³)","values":[100,200,300,400,500,600]}}},
 "layer":[
  {"transform":[{"density":"v","groupby":["s","g"],"steps":150,"as":["v","dens"]}],
   "mark":{"type":"tick","thickness":1.1,"opacity":1},
   "encoding":{"size":{"field":"dens","type":"quantitative","scale":{"range":[0,15.6],"zero":true},"legend":null},
    "color":{"field":"g","type":"nominal","scale":{"domain":["PD","ET","HC"],"range":["#86b9dc","#f08d87","#b6aed6"]},"legend":null}}},
  {"transform":[{"density":"v","groupby":["s","g"],"steps":150,"as":["v","dens"]}],
   "mark":{"type":"tick","thickness":1.1,"opacity":1},
   "encoding":{"size":{"field":"dens","type":"quantitative","scale":{"range":[0,14],"zero":true},"legend":null},
    "fill":{"field":"g","type":"nominal","scale":{"domain":["PD","ET","HC"],"range":["#a9cfe7","#f6aaa5","#d5cfe7"]},"legend":{"title":"Group","orient":"none","legendX":150,"legendY":46}}}},
  {"mark":{"type":"point","shape":"square","size":2,"filled":false,"strokeWidth":0.9,"opacity":0.75},
   "encoding":{"stroke":{"field":"g","type":"nominal","scale":{"domain":["PD","ET","HC"],"range":["#3d8cc4","#e9544d","#8a7fb5"]},"legend":{"title":"Group","orient":"none","legendX":150,"legendY":46}}}},
  {"mark":{"type":"errorbar","extent":"stdev","ticks":{"size":6,"color":"#222","strokeWidth":0.9},"rule":{"color":"#222","strokeWidth":0.9}}},
  {"mark":{"type":"tick","color":"#222","size":11,"thickness":0.9,"opacity":1},"encoding":{"y":{"aggregate":"mean","field":"v","type":"quantitative"}}},
  {"data":{"name":"bC"},"mark":{"type":"line","color":"#333","strokeWidth":0.7},"encoding":{"detail":{"field":"b","type":"nominal"},"order":{"field":"o","type":"quantitative"}}},
  {"data":{"name":"lC"},"mark":{"type":"text","fontSize":7,"baseline":"alphabetic","dy":1.5,"color":"#333"},"encoding":{"text":{"field":"t","type":"nominal"}}}
 ]},
{"width":142,"height":113,"title":{"text":"D"},"data":{"name":"D"},
 "resolve":{"scale":{"size":"independent"}},
 "encoding":{
  "x":{"field":"s","type":"nominal","sort":["Right","Left"],"scale":{"paddingInner":0.375,"paddingOuter":0.2875},"axis":{"title":null,"labelAngle":0}},
  "xOffset":{"field":"g","type":"nominal","scale":{"domain":["PD","PD-ET","ET","ET-HC","HC"],"paddingInner":0,"paddingOuter":0}},
  "y":{"field":"v","type":"quantitative","scale":{"domain":[0.78,10.4],"nice":false,"zero":false},"axis":{"title":"NM CNR of SN","values":[2,4,6,8,10]}}},
 "layer":[
  {"transform":[{"density":"v","groupby":["s","g"],"steps":150,"as":["v","dens"]}],
   "mark":{"type":"tick","thickness":1.1,"opacity":1},
   "encoding":{"size":{"field":"dens","type":"quantitative","scale":{"range":[0,15.6],"zero":true},"legend":null},
    "color":{"field":"g","type":"nominal","scale":{"domain":["PD","ET","HC"],"range":["#86b9dc","#f08d87","#b6aed6"]},"legend":null}}},
  {"transform":[{"density":"v","groupby":["s","g"],"steps":150,"as":["v","dens"]}],
   "mark":{"type":"tick","thickness":1.1,"opacity":1},
   "encoding":{"size":{"field":"dens","type":"quantitative","scale":{"range":[0,14],"zero":true},"legend":null},
    "fill":{"field":"g","type":"nominal","scale":{"domain":["PD","ET","HC"],"range":["#a9cfe7","#f6aaa5","#d5cfe7"]},"legend":{"title":"Group","orient":"none","legendX":150,"legendY":46}}}},
  {"mark":{"type":"point","shape":"square","size":2,"filled":false,"strokeWidth":0.9,"opacity":0.75},
   "encoding":{"stroke":{"field":"g","type":"nominal","scale":{"domain":["PD","ET","HC"],"range":["#3d8cc4","#e9544d","#8a7fb5"]},"legend":{"title":"Group","orient":"none","legendX":150,"legendY":46}}}},
  {"mark":{"type":"errorbar","extent":"stdev","ticks":{"size":6,"color":"#222","strokeWidth":0.9},"rule":{"color":"#222","strokeWidth":0.9}}},
  {"mark":{"type":"tick","color":"#222","size":11,"thickness":0.9,"opacity":1},"encoding":{"y":{"aggregate":"mean","field":"v","type":"quantitative"}}},
  {"data":{"name":"bD"},"mark":{"type":"line","color":"#333","strokeWidth":0.7},"encoding":{"detail":{"field":"b","type":"nominal"},"order":{"field":"o","type":"quantitative"}}},
  {"data":{"name":"lD"},"mark":{"type":"text","fontSize":7,"baseline":"alphabetic","dy":1.5,"color":"#333"},"encoding":{"text":{"field":"t","type":"nominal"}}}
 ]}
],"spacing":9,
"resolve":{"scale":{"size":"independent","fill":"independent","stroke":"independent","color":"independent"},"legend":{"fill":"independent","stroke":"independent"}}}
]
}
